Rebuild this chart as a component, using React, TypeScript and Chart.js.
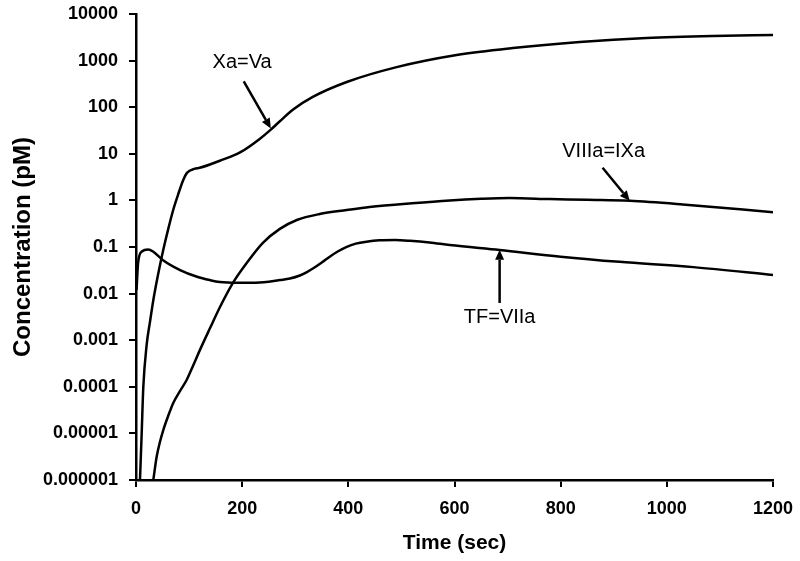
import React, { useEffect, useRef } from 'react';
import { Chart, registerables } from 'chart.js';

Chart.register(...registerables);

// ---- data (time in sec, concentration in pM) ----
const T_XA = [7.5, 10.7, 13.8, 20.1, 26.4, 32.6, 41.4, 51.4, 60.2, 70.2, 79, 89, 96, 111, 120, 158, 196, 233, 254, 271, 296, 333, 397, 491, 604, 710, 836, 962, 1086, 1200];
const XA = [1e-6, 1e-5, 1e-4, 8e-4, 0.0025, 0.0072, 0.025, 0.087, 0.23, 0.63, 1.3, 2.75, 3.9, 4.8, 5.0, 7.1, 10.7, 20.9, 33, 50, 89, 166, 347, 724, 1318, 1860, 2500, 3060, 3390, 3560];

const T_VIIIA = [32.6, 39, 45.2, 51.4, 60.2, 70.2, 82.8, 95.4, 107.3, 120.5, 139.3, 158, 182.6, 208.9, 239, 271, 303, 346, 397, 440, 520, 591, 650, 704, 779, 850, 930, 1030, 1200];
const VIIIA = [1e-6, 3.2e-6, 6.6e-6, 1.18e-5, 2.3e-5, 4.5e-5, 8.1e-5, 1.4e-4, 2.8e-4, 6.2e-4, 0.0018, 0.0051, 0.017, 0.046, 0.123, 0.245, 0.38, 0.51, 0.62, 0.72, 0.87, 1.0, 1.08, 1.12, 1.07, 1.03, 0.98, 0.82, 0.56];

const T_TF = [1, 4, 11, 23, 32, 51, 83, 115, 139, 158, 190, 220, 250, 271, 290, 308.7, 322, 334, 350, 365, 380, 397, 414, 434, 459, 488, 516, 553, 591, 685, 800, 911, 1050, 1200];
const TF = [0.012, 0.046, 0.08, 0.088, 0.08, 0.052, 0.032, 0.023, 0.0195, 0.0177, 0.017, 0.017, 0.018, 0.0195, 0.0211, 0.0245, 0.029, 0.0349, 0.0464, 0.062, 0.08, 0.101, 0.118, 0.13, 0.139, 0.141, 0.136, 0.125, 0.11, 0.086, 0.062, 0.048, 0.037, 0.025];

const X_TICKS = [0, 200, 400, 600, 800, 1000, 1200];
const X_TICK_LABELS = ['0', '200', '400', '600', '800', '1000', '1200'];
const Y_TICKS = [1e-6, 1e-5, 1e-4, 1e-3, 1e-2, 1e-1, 1, 10, 100, 1000, 10000];
const Y_TICK_LABELS = ['0.000001', '0.00001', '0.0001', '0.001', '0.01', '0.1', '1', '10', '100', '1000', '10000'];

// annotation labels with arrows (data coordinates)
const ANN_TEXT = ['Xa=Va', 'VIIIa=IXa', 'TF=VIIa'];
const ANN_TEXT_AT = [[200, 900], [881, 11], [685, 0.003]];
const ANN_ARROW_FROM = [[203, 360], [879, 5], [685, 0.0063]];
const ANN_ARROW_TO = [[254, 35], [930, 0.98], [685, 0.087]];

const FONT = '"Liberation Sans", Arial, Helvetica, sans-serif';

const toPoints = (xs: number[], ys: number[]) => xs.map((x, i) => ({ x, y: ys[i] }));

const annotationPlugin = {
  id: 'arrowLabels',
  afterDatasetsDraw(chart: any) {
    const { ctx, scales } = chart;
    const sx = scales.x;
    const sy = scales.y;
    ctx.save();
    ctx.fillStyle = '#000';
    ctx.strokeStyle = '#000';
    ctx.font = `20px ${FONT}`;
    ctx.textAlign = 'center';
    ctx.textBaseline = 'middle';
    ANN_TEXT.forEach((txt, i) => {
      const tx = sx.getPixelForValue(ANN_TEXT_AT[i][0]);
      const ty = sy.getPixelForValue(ANN_TEXT_AT[i][1]);
      ctx.fillText(txt, tx, ty);
      const x1 = sx.getPixelForValue(ANN_ARROW_FROM[i][0]);
      const y1 = sy.getPixelForValue(ANN_ARROW_FROM[i][1]);
      const x2 = sx.getPixelForValue(ANN_ARROW_TO[i][0]);
      const y2 = sy.getPixelForValue(ANN_ARROW_TO[i][1]);
      const ang = Math.atan2(y2 - y1, x2 - x1);
      const hl = 10;
      const hw = 4.5;
      const bx = x2 - hl * Math.cos(ang);
      const by = y2 - hl * Math.sin(ang);
      ctx.lineWidth = 2.5;
      ctx.beginPath();
      ctx.moveTo(x1, y1);
      ctx.lineTo(bx, by);
      ctx.stroke();
      ctx.beginPath();
      ctx.moveTo(x2, y2);
      ctx.lineTo(bx + hw * Math.sin(ang), by - hw * Math.cos(ang));
      ctx.lineTo(bx - hw * Math.sin(ang), by + hw * Math.cos(ang));
      ctx.closePath();
      ctx.fill();
    });
    ctx.restore();
  },
};

export default function App() {
  const ref = useRef<HTMLCanvasElement>(null);
  useEffect(() => {
    if (!ref.current) return;
    Chart.defaults.font.family = FONT;
    Chart.defaults.color = '#000';
    const lineStyle = {
      borderColor: '#000',
      borderWidth: 2.5,
      pointRadius: 0,
      fill: false,
      cubicInterpolationMode: 'monotone' as const,
    };
    const chart = new Chart(ref.current, {
      type: 'line',
      data: {
        datasets: [
          { label: 'Xa=Va', data: toPoints(T_XA, XA), ...lineStyle },
          { label: 'VIIIa=IXa', data: toPoints(T_VIIIA, VIIIA), ...lineStyle },
          { label: 'TF=VIIa', data: toPoints(T_TF, TF), ...lineStyle },
        ],
      },
      options: {
        animation: false,
        responsive: true,
        maintainAspectRatio: false,
        layout: { padding: { left: 0, right: 27, top: 14, bottom: 0 } },
        plugins: { legend: { display: false }, tooltip: { enabled: false } },
        scales: {
          x: {
            type: 'linear',
            min: 0,
            max: 1200,
            afterBuildTicks: (s: any) => {
              s.ticks = X_TICKS.map((v) => ({ value: v }));
            },
            afterFit: (s: any) => {
              s.height = 81;
              s.paddingLeft = 0;
              s.paddingRight = 0;
            },
            ticks: {
              color: '#000',
              font: { size: 18, weight: 'bold' },
              padding: 11,
              maxRotation: 0,
              autoSkip: false,
              callback: (_v: any, i: number) => X_TICK_LABELS[i],
            },
            grid: {
              display: true,
              drawOnChartArea: false,
              drawTicks: true,
              tickLength: 7,
              color: '#000',
              lineWidth: 2,
            },
            border: { display: true, color: '#000', width: 2.5 },
            title: {
              display: true,
              text: 'Time (sec)',
              color: '#000',
              font: { size: 21, weight: 'bold' },
              padding: { top: 0, bottom: 5 },
            },
          },
          y: {
            type: 'logarithmic',
            min: 1e-6,
            max: 1e4,
            afterBuildTicks: (s: any) => {
              s.ticks = Y_TICKS.map((v) => ({ value: v }));
            },
            afterFit: (s: any) => {
              s.width = 136;
              s.paddingTop = 0;
              s.paddingBottom = 0;
            },
            ticks: {
              color: '#000',
              font: { size: 18, weight: 'bold' },
              padding: 11,
              autoSkip: false,
              callback: (_v: any, i: number) => Y_TICK_LABELS[i],
            },
            grid: {
              display: true,
              drawOnChartArea: false,
              drawTicks: true,
              tickLength: 7,
              color: '#000',
              lineWidth: 2,
            },
            border: { display: true, color: '#000', width: 2.5 },
            title: {
              display: true,
              text: 'Concentration (pM)',
              color: '#000',
              font: { size: 24, weight: 'bold' },
              padding: { top: 9, bottom: 0 },
            },
          },
        },
      },
      plugins: [annotationPlugin],
    });
    return () => chart.destroy();
  }, []);
  return (
    <div style={{ position: 'fixed', left: 0, top: 0, width: 800, height: 561, background: '#fff' }}>
      <canvas ref={ref} />
    </div>
  );
}
